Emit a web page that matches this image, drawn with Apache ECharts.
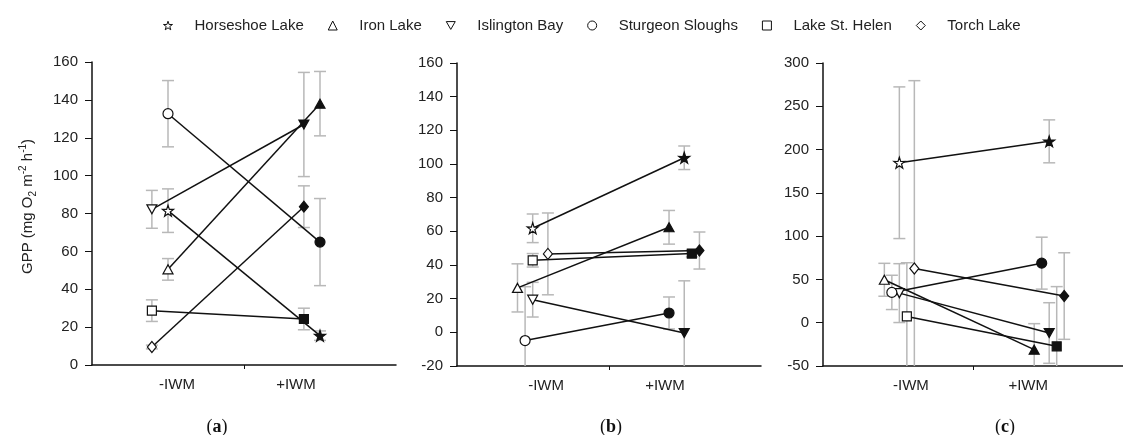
<!DOCTYPE html>
<html><head><meta charset="utf-8">
<script src="https://cdn.jsdelivr.net/npm/echarts@6/dist/echarts.min.js"></script>
<style>html,body{margin:0;padding:0;background:#fff}#c{width:1123px;height:435px}</style>
</head><body><div id="c"></div>
<script>
// ---------------- data ----------------
const conditions = ['-IWM', '+IWM'];
const lakes = ['Horseshoe Lake', 'Iron Lake', 'Islington Bay', 'Sturgeon Sloughs', 'Lake St. Helen', 'Torch Lake'];
const panelTags = ['a', 'b', 'c'];

// GPP means [-IWM, +IWM] per lake
const meansA = [[81.5, 15.5], [50.5, 138], [82.2, 127], [132.7, 64.9], [28.7, 24.3], [9.5, 83.6]];
const errsA  = [[11.5, 2.5], [5.7, 17], [10, 27.5], [17.5, 23], [5.7, 5.7], [1, 11]];
const meansB = [[61.8, 103.7], [26.4, 62.4], [19.4, -0.4], [-4.9, 11.5], [42.8, 46.8], [46.6, 48.6]];
const errsB  = [[8.5, 7], [14.3, 10], [10.3, 31], [32, 9.5], [4, 2], [24.3, 11]];
const meansC = [[184.8, 209.5], [49.6, -31.1], [34.2, -11.9], [35, 68.8], [7.3, -27.3], [62.6, 30.8]];
const errsC  = [[87.6, 24.8], [19, 30], [34, 35], [19.8, 30], [62, 69], [217, 50]];

const yTicksA = [0, 20, 40, 60, 80, 100, 120, 140, 160];
const yTicksB = [-20, 0, 20, 40, 60, 80, 100, 120, 140, 160];
const yTicksC = [-50, 0, 50, 100, 150, 200, 250, 300];

// ---------------- layout / style ----------------
const symbols = [
  'path://M50,0 L61.8,35.1 L97.6,34.5 L69,56 L79.4,90.5 L50,70 L20.6,90.5 L31,56 L2.4,34.5 L38.2,35.1 Z',
  'triangle',
  'path://M0,0 L100,0 L50,87 Z',
  'circle',
  'rect',
  'diamond'
];
const symbolSizes = [11, [10, 9], [10, 9], 10, 9, [9, 11]];

const layouts = [
  { grid: { left: 92, width: 304, top: 62, height: 303 }, centers: [0.447, 1.447],
    dodge: [[0.053, 0.053, -0.053, 0.053, -0.053, -0.053], [0.053, 0.053, -0.053, 0.053, -0.053, -0.053]],
    labelPos: [0.559, 1.342], tagX: 217 },
  { grid: { left: 457, width: 304, top: 63, height: 303 }, centers: [0.498, 1.495],
    dodge: [[0, -0.1, 0, -0.05, 0, 0.1], [0, -0.1, 0, -0.1, 0.05, 0.1]],
    labelPos: [0.586, 1.368], tagX: 611 },
  { grid: { left: 823, width: 304, top: 63, height: 303 }, centers: [0.509, 1.508],
    dodge: [[0, -0.1, 0, -0.05, 0.05, 0.1], [0, -0.1, 0, -0.05, 0.05, 0.1]],
    labelPos: [0.586, 1.368], tagX: 1005 }
];
const panelData = [
  { means: meansA, errs: errsA, ticks: yTicksA },
  { means: meansB, errs: errsB, ticks: yTicksB },
  { means: meansC, errs: errsC, ticks: yTicksC }
];

const FONT = "'Liberation Sans', Arial, sans-serif";
const INK = '#111';
const GRAY = '#b8b8b8';

const grids = [], xAxes = [], yAxes = [], series = [], graphics = [];

panelData.forEach((p, pi) => {
  const L = layouts[pi];
  grids.push(L.grid);
  xAxes.push({
    type: 'value', gridIndex: pi, min: 0, max: 2,
    splitLine: { show: false },
    axisLine: { onZero: false, lineStyle: { color: INK, width: 1.5 } },
    axisTick: { customValues: [1], length: 4, lineStyle: { color: INK, width: 1 } },
    axisLabel: {
      customValues: L.labelPos,
      formatter: v => (v < 1 ? conditions[0] : conditions[1]),
      fontSize: 15, color: '#222', fontFamily: FONT, margin: 12
    }
  });
  const t = p.ticks;
  const y = {
    type: 'value', gridIndex: pi, min: t[0], max: t[t.length - 1], interval: t[1] - t[0],
    splitLine: { show: false },
    axisLine: { show: true, onZero: false, lineStyle: { color: INK, width: 1.5 } },
    axisTick: { show: true, length: 7, lineStyle: { color: INK, width: 1 } },
    axisLabel: { fontSize: 15, color: '#222', fontFamily: FONT, margin: 14 }
  };
  if (pi === 0) {
    y.name = '{n|GPP (mg O}{sub|2}{n| m}{sup|-2}{n| h}{sup|-1}{n|)}';
    y.nameLocation = 'middle';
    y.nameRotate = 90;
    y.nameGap = 54;
    y.nameTextStyle = {
      fontFamily: FONT, color: '#222', padding: [0, 0, 0, 14],
      rich: {
        n: { fontSize: 15, lineHeight: 20, fontFamily: FONT, color: '#222' },
        sub: { fontSize: 10, lineHeight: 20, verticalAlign: 'bottom', fontFamily: FONT, color: '#222' },
        sup: { fontSize: 10, lineHeight: 20, verticalAlign: 'top', fontFamily: FONT, color: '#222' }
      }
    };
  }
  yAxes.push(y);

  // error bars
  const errData = [];
  lakes.forEach((lake, li) => {
    conditions.forEach((c, ci) => {
      errData.push([L.centers[ci] + L.dodge[ci][li], p.means[li][ci], p.errs[li][ci]]);
    });
  });
  series.push({
    type: 'custom', xAxisIndex: pi, yAxisIndex: pi, clip: true, z: 1, silent: true,
    encode: { x: 0, y: 1 },
    data: errData,
    renderItem(params, api) {
      const x = api.value(0), m = api.value(1), e = api.value(2);
      const top = api.coord([x, m + e]);
      const bot = api.coord([x, m - e]);
      const cw = 6;
      const style = { stroke: GRAY, lineWidth: 1.5 };
      return {
        type: 'group', children: [
          { type: 'line', shape: { x1: top[0], y1: top[1], x2: bot[0], y2: bot[1] }, style },
          { type: 'line', shape: { x1: top[0] - cw, y1: top[1], x2: top[0] + cw, y2: top[1] }, style },
          { type: 'line', shape: { x1: bot[0] - cw, y1: bot[1], x2: bot[0] + cw, y2: bot[1] }, style }
        ]
      };
    }
  });

  lakes.forEach((lake, li) => {
    series.push({
      type: 'line', name: lake, xAxisIndex: pi, yAxisIndex: pi, z: 3,
      symbol: symbols[li], symbolSize: symbolSizes[li], showAllSymbol: true,
      lineStyle: { color: INK, width: 1.5 },
      itemStyle: { color: '#fff', borderColor: INK, borderWidth: 1.2 },
      data: conditions.map((c, ci) => ({
        value: [L.centers[ci] + L.dodge[ci][li], p.means[li][ci]],
        itemStyle: ci === 1 ? { color: INK } : undefined
      }))
    });
  });

  graphics.push({
    type: 'text', x: L.tagX, y: 427,
    style: {
      text: '{p|(}{b|' + panelTags[pi] + '}{p|)}',
      textAlign: 'center', textVerticalAlign: 'middle',
      rich: {
        p: { fontSize: 18, fontFamily: "'Liberation Serif', serif", fill: '#111' },
        b: { fontSize: 18, fontWeight: 'bold', fontFamily: "'Liberation Serif', serif", fill: '#111' }
      }
    }
  });
});

const chart = echarts.init(document.getElementById('c'), null, { renderer: 'canvas' });
chart.setOption({
  animation: false,
  backgroundColor: '#fff',
  grid: grids,
  xAxis: xAxes,
  yAxis: yAxes,
  legend: {
    left: 158, top: 13, itemWidth: 9, itemHeight: 9, itemGap: 24, selectedMode: false,
    data: lakes.map((n, i) => ({ name: n, icon: symbols[i] })),
    itemStyle: { color: '#fff', borderColor: INK, borderWidth: 1 },
    textStyle: { fontSize: 15, color: '#222', fontFamily: FONT, padding: [0, 0, 0, 17] }
  },
  graphic: graphics,
  series
});
</script>
</body></html>
